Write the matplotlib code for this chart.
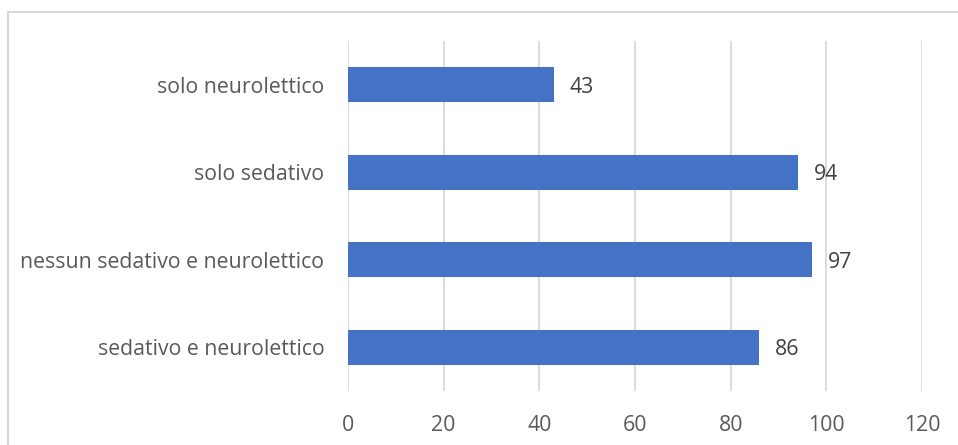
import matplotlib.pyplot as plt
from matplotlib.patches import Rectangle

# Categories listed top to bottom as they appear on the chart
categories = ['solo neurolettico', 'solo sedativo',
              'nessun sedativo e neurolettico', 'sedativo e neurolettico']
values = [43, 94, 97, 86]
x_ticks = [0, 20, 40, 60, 80, 100, 120]

BAR_COLOR = '#4472C4'
TEXT_COLOR = '#595959'
GRID_COLOR = '#D9D9D9'

plt.rcParams['font.family'] = ['Open Sans', 'DejaVu Sans']

W, H = 958, 445
fig = plt.figure(figsize=(W / 100, H / 100), dpi=100)
ax = fig.add_axes([348 / W, (H - 391) / H, (922 - 348) / W, (391 - 41) / H])

# outer chart frame (only top and left edges fall inside the image)
fig.patches.append(Rectangle((8 / W, -0.1), 1.2, (H - 12) / H + 0.1,
                             transform=fig.transFigure, fill=False,
                             edgecolor='#D9D9D9', linewidth=1.5))

y = list(range(len(categories)))[::-1]
bars = ax.barh(y, values, height=0.4, color=BAR_COLOR)

for yi, v in zip(y, values):
    ax.text(v + 3.3, yi, str(v), va='center_baseline', ha='left',
            fontsize=15.3, color='#404040')

ax.set_xlim(0, 120)
ax.set_ylim(-0.5, len(categories) - 0.5)
ax.set_xticks(x_ticks)
ax.set_yticks(y)
ax.set_yticklabels(categories)
ax.tick_params(axis='both', length=0, labelsize=15.3, labelcolor=TEXT_COLOR)
ax.tick_params(axis='x', pad=17)
ax.tick_params(axis='y', pad=17)

ax.grid(axis='x', color=GRID_COLOR, linewidth=1.3)
ax.set_axisbelow(True)
for s in ax.spines.values():
    s.set_visible(False)

fig.savefig('out.png', dpi=100)
